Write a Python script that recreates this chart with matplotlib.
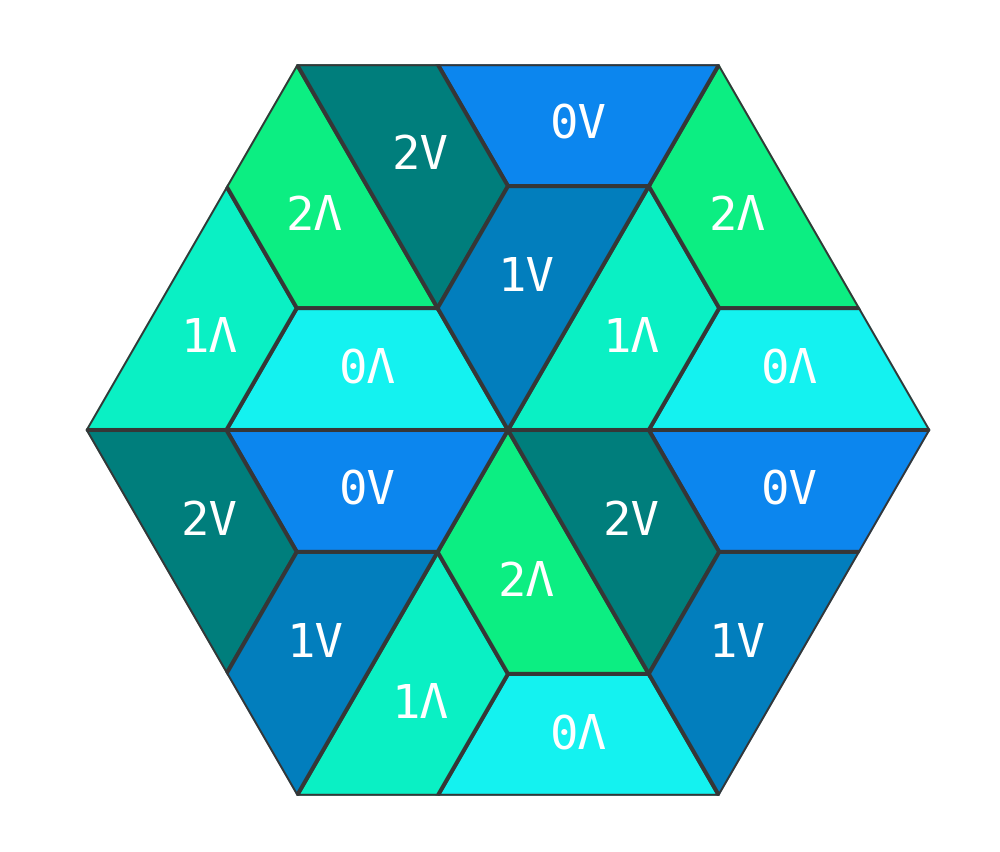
import numpy as np
import matplotlib
matplotlib.use("Agg")
import matplotlib.pyplot as plt
from matplotlib.collections import PolyCollection
from matplotlib.patches import Polygon

# ---- data ----
up_labels = ["0\u039b", "1\u039b", "2\u039b"]      # pieces of upward triangles
down_labels = ["0V", "2V", "1V"]                   # pieces of downward triangles
label_colors = {
    "0V": "#0c86ee",
    "1V": "#027ebd",
    "2V": "#007e7c",
    "0\u039b": "#14f2f0",
    "1\u039b": "#0af0c4",
    "2\u039b": "#0cee82",
}
# piece patterns in triangle lattice indices (i, j)
piece_patterns = [
    [(1, 0), (3, 0), (2, 1), (1, 1)],
    [(0, 0), (1, 0), (1, 1), (0, 2)],
    [(0, 2), (1, 1), (2, 1), (0, 3)],
]

# ---- geometry of hexagon (side 3 units) ----
side = 3.0
hgt = side * np.sqrt(3) / 2
O = np.array([0.0, 0.0])
L = np.array([-side, 0.0]); R = np.array([side, 0.0])
TL = np.array([-side / 2, hgt]); TR = np.array([side / 2, hgt])
BL = np.array([-side / 2, -hgt]); BR = np.array([side / 2, -hgt])

up_tris = [(L, TL, O), (O, TR, R), (BL, O, BR)]       # (base-left, apex, base-right)
down_tris = [(TL, TR, O), (L, O, BL), (O, R, BR)]     # (top-left, top-right, bottom apex)

polys, colors, labels = [], [], []

def add_pieces(P0, P1, P2, labs):
    u = (P1 - P0) / 3.0
    v = (P2 - P0) / 3.0
    for pat, lab in zip(piece_patterns, labs):
        pts = np.array([P0 + i * u + j * v for i, j in pat])
        polys.append(pts)
        colors.append(label_colors[lab])
        labels.append(lab)

for A, B, C in up_tris:
    add_pieces(A, C, B, up_labels)
for D1, D2, D3 in down_tris:
    add_pieces(D1, D2, D3, down_labels)

# ---- figure ----
W, H, dpi = 1000, 853, 100
fig = plt.figure(figsize=(W / dpi, H / dpi), dpi=dpi)
ax = fig.add_axes([0, 0, 1, 1])
ax.set_axis_off()
scale = 140.8  # px per unit
cx, cy = 508, 853 - 431
ax.set_xlim(-cx / scale, (W - cx) / scale)
ax.set_ylim(-cy / scale, (H - cy) / scale)

hexagon = Polygon([R, TR, TL, L, BL, BR], closed=True, transform=ax.transData,
                  facecolor="none", edgecolor="none")
ax.add_patch(hexagon)

pc = PolyCollection(polys, facecolors=colors, edgecolors="#363636",
                    linewidths=2.9, joinstyle="miter")
ax.add_collection(pc)
pc.set_clip_path(hexagon)

for pts, lab in zip(polys, labels):
    c = pts.mean(axis=0)
    ax.text(c[0], c[1], lab, ha="center", va="center", color="white",
            fontsize=34, family=["DejaVu Sans Mono", "DejaVu Sans"])

fig.savefig("out.png", dpi=dpi, facecolor="white")
